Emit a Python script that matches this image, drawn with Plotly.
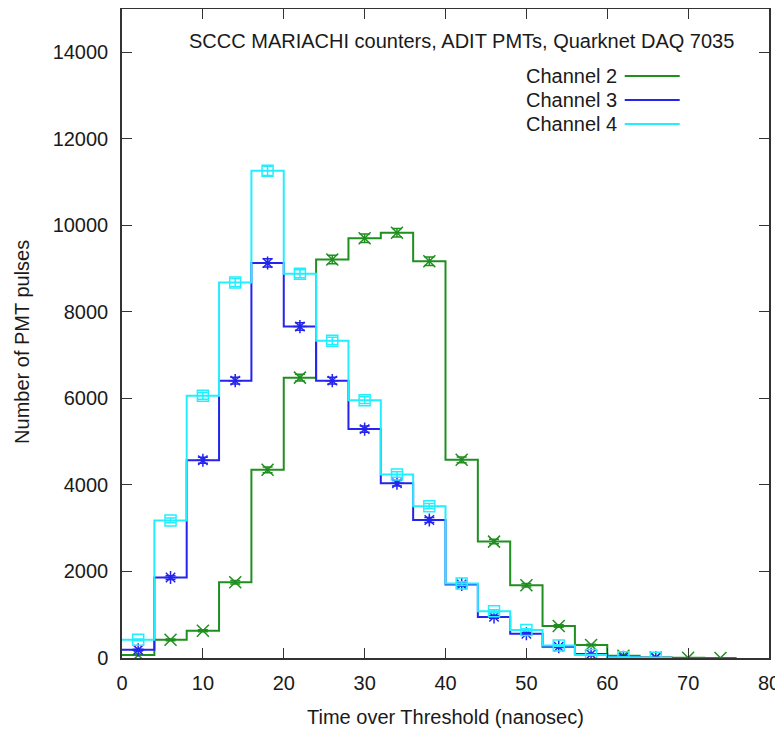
import numpy as np
import plotly.graph_objects as go

# Data (bin centers in ns, counts per bin)
bin_width = 4
x_ch2 = [2, 6, 10, 14, 18, 22, 26, 30, 34, 38, 42, 46, 50, 54, 58, 62, 66, 70, 74]
ch2 = [70, 420, 630, 1750, 4350, 6480, 9210, 9700, 9830, 9170, 4580, 2690, 1680, 740, 300, 50, 10, 4, 2]
x_ch3 = [2, 6, 10, 14, 18, 22, 26, 30, 34, 38, 42, 46, 50, 54, 58, 62, 66]
ch3 = [190, 1860, 4570, 6410, 9130, 7660, 6410, 5290, 4040, 3190, 1700, 950, 560, 260, 90, 15, 5]
x_ch4 = [2, 6, 10, 14, 18, 22, 26, 30, 34, 38, 42, 46, 50, 54, 58, 62, 66]
ch4 = [420, 3180, 6060, 8680, 11260, 8880, 7330, 5960, 4240, 3510, 1720, 1080, 650, 290, 70, 20, 8]

names = ["Channel 2", "Channel 3", "Channel 4"]
colors = ["#1f8f1f", "#2424ee", "#22eeff"]
symbols = ["x-thin-open", "asterisk-open", "square-open"]
sizes = [12, 11, 11]

x_ticks = list(range(0, 81, 10))
y_ticks = list(range(0, 14001, 2000))

fig = go.Figure()
series = [(x_ch2, ch2), (x_ch3, ch3), (x_ch4, ch4)]
for (xs, ys), name, col, sym, sz in zip(series, names, colors, symbols, sizes):
    edges = [c - bin_width / 2 for c in xs] + [xs[-1] + bin_width / 2]
    vals = list(ys) + [ys[-1]]
    fig.add_trace(go.Scatter(x=edges, y=vals, mode="lines", line_shape="hv",
                             line=dict(color=col, width=2), showlegend=False,
                             hoverinfo="skip"))
    fig.add_trace(go.Scatter(x=xs, y=ys, mode="markers",
                             marker=dict(symbol=sym, size=sz, color=col,
                                         line=dict(color=col, width=1.5)),
                             error_y=dict(type="data", array=list(np.sqrt(ys)),
                                          color=col, thickness=1.5, width=5),
                             name=name, showlegend=False))

font_family = "Liberation Sans, Arial, sans-serif"
txt_col = "#1a1a1a"
fs = 20

# legend drawn gnuplot-style: text right-aligned, sample line to the right
leg_y = [0.8968, 0.8598, 0.8228]
for name, col, yy in zip(names, colors, leg_y):
    fig.add_annotation(x=0.768, y=yy, xref="paper", yref="paper", text=name,
                       showarrow=False, xanchor="right", yanchor="middle",
                       font=dict(size=fs, color=txt_col, family=font_family))
    fig.add_shape(type="line", xref="paper", yref="paper", x0=0.777, x1=0.862,
                  y0=yy, y1=yy, line=dict(color=col, width=2))

fig.add_annotation(x=0.5247, y=0.9507, xref="paper", yref="paper",
                   text="SCCC MARIACHI counters, ADIT PMTs, Quarknet DAQ 7035",
                   showarrow=False, xanchor="center", yanchor="middle",
                   font=dict(size=fs, color=txt_col, family=font_family))

# axis titles
fig.add_annotation(x=0.5, y=-0.0909, xref="paper", yref="paper",
                   text="Time over Threshold (nanosec)", showarrow=False,
                   xanchor="center", yanchor="middle",
                   font=dict(size=fs, color=txt_col, family=font_family))
fig.add_annotation(x=-0.1546, y=0.487, xref="paper", yref="paper",
                   text="Number of PMT pulses", showarrow=False, textangle=-90,
                   xanchor="center", yanchor="middle",
                   font=dict(size=fs, color=txt_col, family=font_family))

axis_common = dict(showgrid=False, zeroline=False, showline=True, linecolor="#333333",
                   linewidth=1.5, mirror="ticks", ticks="inside", ticklen=10,
                   tickcolor="#333333", tickwidth=1, automargin=False,
                   tickfont=dict(size=fs, color=txt_col, family=font_family))

# page body has an 8px margin: shift figure so the plot frame lands where the reference has it
fig.update_layout(
    width=775, height=721,
    margin=dict(l=114, r=14, t=1, b=71),
    paper_bgcolor="white", plot_bgcolor="white",
    xaxis=dict(range=[0, 80], tickvals=x_ticks, ticklabelstandoff=6, **axis_common),
    yaxis=dict(range=[0, 15000], tickvals=y_ticks, tickformat="d",
               ticklabelstandoff=8, **axis_common),
)

fig.write_html("out.html")
